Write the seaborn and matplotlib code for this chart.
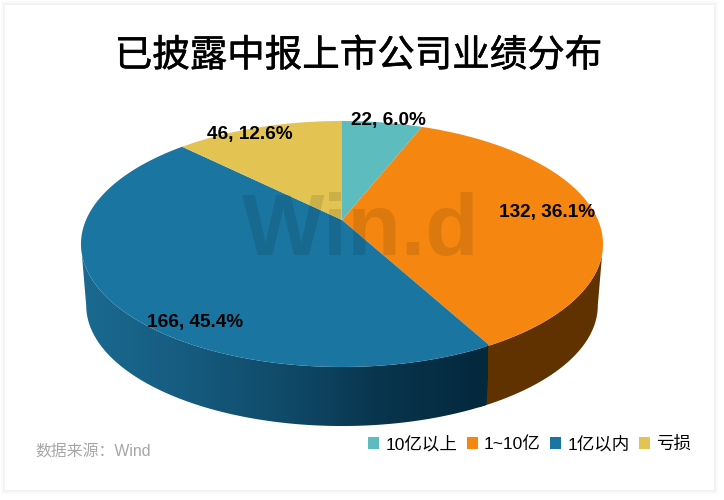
import matplotlib
matplotlib.use('Agg')
import matplotlib.pyplot as plt
import matplotlib.patheffects as pe
from matplotlib.colors import ListedColormap
from matplotlib.patches import Polygon, Rectangle
import numpy as np
import seaborn as sns

categories = ['10亿以上', '1~10亿', '1亿以内', '亏损']
counts = [22, 132, 166, 46]
colors = ['#5dbcbd', '#f58710', '#1a76a1', '#e3c453']

title = '已披露中报上市公司业绩分布'
source = '数据来源：Wind'
watermark = 'Win.d'

sns.set_theme(style='white')
plt.rcParams['font.family'] = ['Liberation Sans', 'Noto Sans CJK SC', 'DejaVu Sans']

# disc geometry in pixels, tilted with a perspective so the apex sits above the ellipse centre
CX, CY = 342, 244
A, B, C, K = 256, 123, 24, 0.195
DEPTH, SHRINK = 61.5, 0.98


def top_xy(theta):
    u, v = np.sin(theta), np.cos(theta)
    return CX + A * u / (1 + K * v), CY - (B * v + C) / (1 + K * v)


def bottom_xy(theta):
    x, y = top_xy(theta)
    return CX + (x - CX) * SHRINK, CY + (y - CY) * SHRINK + DEPTH


def wall_outline(t0, t1):
    t = np.linspace(t0, t1, 150)
    xt, yt = top_xy(t)
    xb, yb = bottom_xy(t)
    return np.c_[np.r_[xt, xb[::-1]], np.r_[yt, yb[::-1]]]


fig = plt.figure(figsize=(7.24, 5), dpi=100)
ax = fig.add_axes([0, 0, 1, 1])

# card
for grow, col in [(4, '#fafafa'), (2, '#f3f3f3')]:
    ax.add_patch(Rectangle((5 - grow, 5 - grow), 709 + 2 * grow, 485 + 2 * grow,
                           fc=col, ec='none', zorder=0))
ax.add_patch(Rectangle((5, 5), 709, 485, fc='white', ec='none', zorder=0))

fractions = np.array(counts) / sum(counts)
edges = np.concatenate([[0], np.cumsum(fractions)]) * 2 * np.pi

# side walls run between the points where the disc is widest
right_end = np.arccos(-K)
left_end = 2 * np.pi - right_end
ax.add_patch(Polygon(wall_outline(right_end, edges[2] + 0.03), fc='#603200', ec='none', zorder=0.9))

blue_wall = Polygon(wall_outline(edges[2], left_end), fc='none', ec='none',
                    transform=ax.transData)
ax.add_patch(blue_wall)
wall_cols = sns.blend_palette(['#04283c', '#08344c', '#104a69', '#165c80', '#1a6a90'], 256)
im = ax.imshow(np.linspace(0, 1, 256).reshape(1, -1), cmap=ListedColormap(wall_cols),
               extent=(488, 81, 440, 230), aspect='auto', zorder=1)
im.set_clip_path(blue_wall)

# top face
for i, col in enumerate(colors):
    x, y = top_xy(np.linspace(edges[i], edges[i + 1], 150))
    ax.fill(np.r_[CX, x], np.r_[CY - C, y], color=col, lw=0, zorder=2)

ax.set_xlim(0, 724)
ax.set_ylim(500, 0)
ax.axis('off')

ax.text(361, 232, watermark, color='black', alpha=0.1, fontsize=63, fontweight='bold',
        family='Liberation Sans', ha='center', va='center', zorder=3)

label_xy = [(388, 120), (547, 213), (195, 323), (250, 134)]
for n, f, (lx, ly) in zip(counts, fractions, label_xy):
    ax.text(lx, ly, f'{n}, {f * 100:.1f}%', fontsize=13.7, fontweight='bold', color='black',
            ha='center', va='center', zorder=4)

ax.text(358.5, 56, title, fontsize=27, color='black', ha='center', va='center',
        family=['Noto Sans CJK SC', 'DejaVu Sans'],
        path_effects=[pe.withStroke(linewidth=0.4, foreground='black')])
ax.text(35, 452, source, fontsize=11.4, color='#a6a6a6', ha='left', va='center')

handles = [Rectangle((0, 0), 1, 1, fc=c, ec='none') for c in colors]
ax.legend(handles, categories, ncol=4, loc='center right', bbox_to_anchor=(691 / 724, 1 - 444 / 500),
          frameon=False, fontsize=12.6, handlelength=0.62, handleheight=0.62,
          handletextpad=0.35, columnspacing=0.55, borderpad=0, borderaxespad=0,
          labelcolor='black')

fig.savefig('out.png', dpi=100)
